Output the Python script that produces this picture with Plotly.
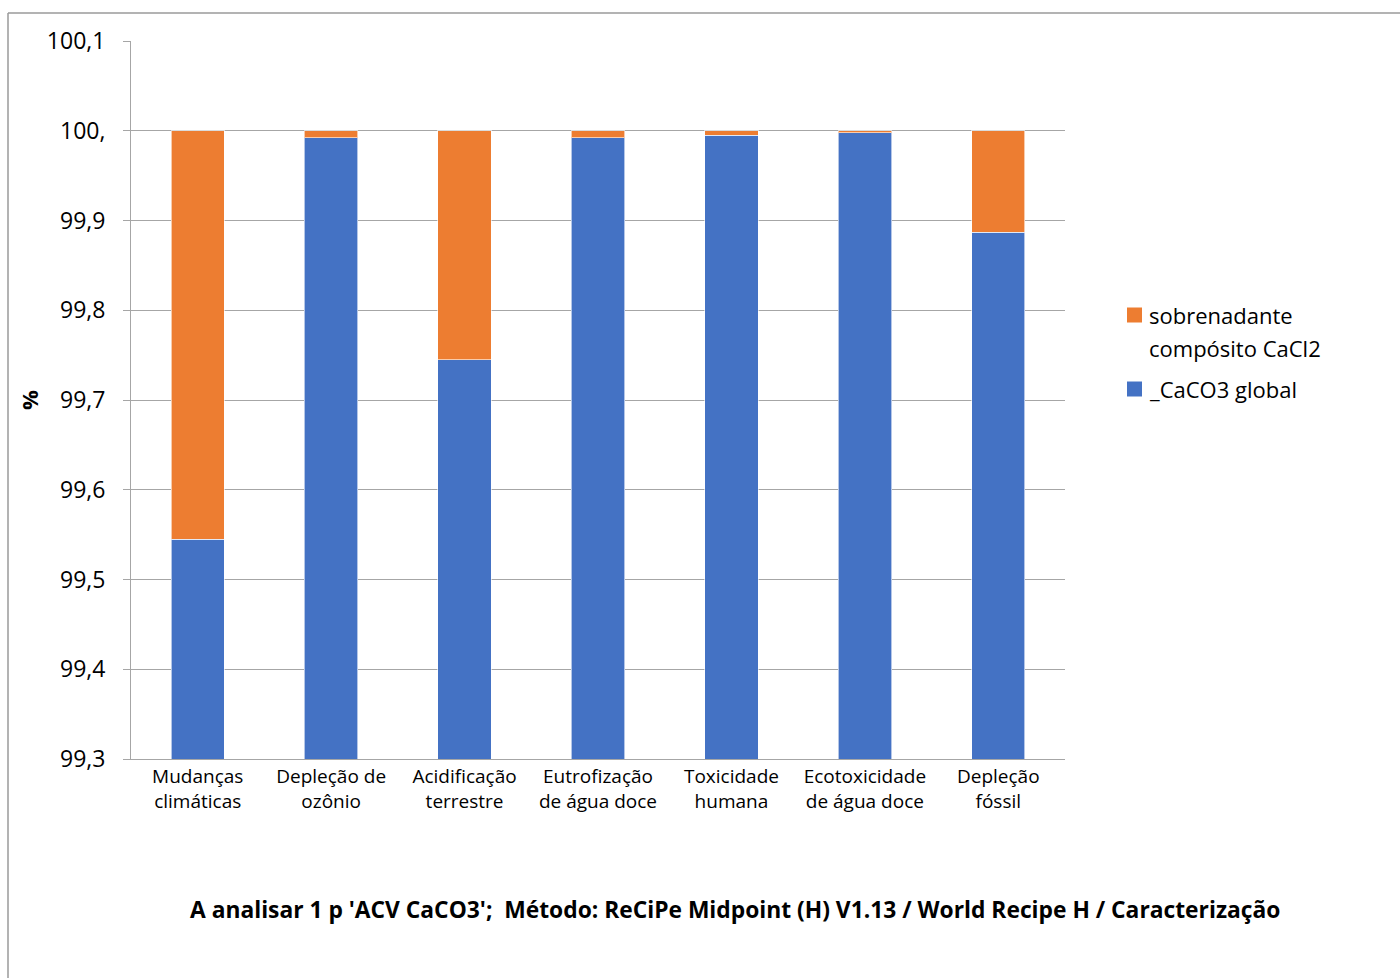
import plotly.graph_objects as go

# Impact categories (ReCiPe Midpoint H)
categories = [
    "Mudanças<br>climáticas",
    "Depleção de<br>ozônio",
    "Acidificação<br>terrestre",
    "Eutrofização<br>de água doce",
    "Toxicidade<br>humana",
    "Ecotoxicidade<br>de água doce",
    "Depleção<br>fóssil",
]

# Contribution of each process (%), stacked to 100
caco3_global = [99.545, 99.992, 99.745, 99.992, 99.995, 99.998, 99.887]
sobrenadante = [0.455, 0.008, 0.255, 0.008, 0.005, 0.002, 0.113]

series_names = ["sobrenadante<br>compósito CaCl2", "_CaCO3 global"]

tick_vals = [99.3, 99.4, 99.5, 99.6, 99.7, 99.8, 99.9, 100.0, 100.1]
tick_text = ["99,3", "99,4", "99,5", "99,6", "99,7", "99,8", "99,9", "100,", "100,1"]

FONT = "Open Sans, Noto Sans, sans-serif"
BLUE = "#4472C4"
ORANGE = "#ED7D31"
GRID = "#a6a6a6"

fig = go.Figure()
fig.add_trace(go.Bar(
    x=categories, y=caco3_global, name=series_names[1],
    marker=dict(color=BLUE, line=dict(color="rgba(255,255,255,0.6)", width=1)),
))
fig.add_trace(go.Bar(
    x=categories, y=sobrenadante, name=series_names[0],
    marker=dict(color=ORANGE, line=dict(color="rgba(255,255,255,0.6)", width=1)),
))

W, H = 1400, 978
L, R, T, B = 131, 335, 41, 219
pw, ph = W - L - R, H - T - B

def px_x(x):
    return (x - L) / pw

def px_y(y):
    return 1 - (y - T) / ph

fig.update_layout(
    width=W, height=H,
    barmode="stack", bargap=0.6,
    plot_bgcolor="white", paper_bgcolor="white",
    margin=dict(l=L, r=R, t=T, b=B),
    font=dict(family=FONT, color="#000000"),
    showlegend=False,
    xaxis=dict(
        showgrid=False, showline=True, linecolor=GRID, linewidth=1,
        ticks="", tickfont=dict(size=19, family=FONT),
        range=[-0.5, 6.5],
    ),
    yaxis=dict(
        range=[99.3, 100.1], tickvals=tick_vals, ticktext=tick_text,
        showgrid=True, gridcolor=GRID, gridwidth=1,
        showline=True, linecolor=GRID, linewidth=1,
        ticks="outside", ticklen=7, tickcolor=GRID,
        tickfont=dict(size=23, family=FONT), ticklabelstandoff=13,
        zeroline=False,
        title=dict(text="<b>%</b>", font=dict(size=22, family=FONT), standoff=2),
    ),
)

# Legend: colour squares with labels at the right of the plot
legend_items = [
    (ORANGE, 315, series_names[0].split("<br>")),
    (BLUE, 389, series_names[1].split("<br>")),
]
for color, yc, lines in legend_items:
    fig.add_shape(type="rect", xref="paper", yref="paper",
                  x0=px_x(1127), x1=px_x(1142), y0=px_y(yc - 7.5), y1=px_y(yc + 7.5),
                  fillcolor=color, line=dict(width=0))
    for i, line in enumerate(lines):
        fig.add_annotation(
            xref="paper", yref="paper", x=px_x(1147), y=px_y(yc + 33 * i),
            text=line, showarrow=False, xanchor="left", yanchor="middle",
            font=dict(size=22, family=FONT),
        )

# Outer chart frame
fig.add_shape(type="line", xref="paper", yref="paper",
              x0=px_x(8), x1=px_x(1400), y0=px_y(13), y1=px_y(13),
              line=dict(color="#9a9a9a", width=1.5))
fig.add_shape(type="line", xref="paper", yref="paper",
              x0=px_x(8), x1=px_x(8), y0=px_y(13), y1=px_y(978),
              line=dict(color="#9a9a9a", width=1.5))

# Caption below the chart
fig.add_annotation(
    xref="paper", yref="paper", x=px_x(735), y=px_y(909),
    text="<b>A analisar 1 p 'ACV CaCO3';  Método: ReCiPe Midpoint (H) V1.13 / World Recipe H / Caracterização</b>",
    showarrow=False, font=dict(size=22.8, family=FONT), xanchor="center", yanchor="middle",
)

fig.write_html("out.html")
